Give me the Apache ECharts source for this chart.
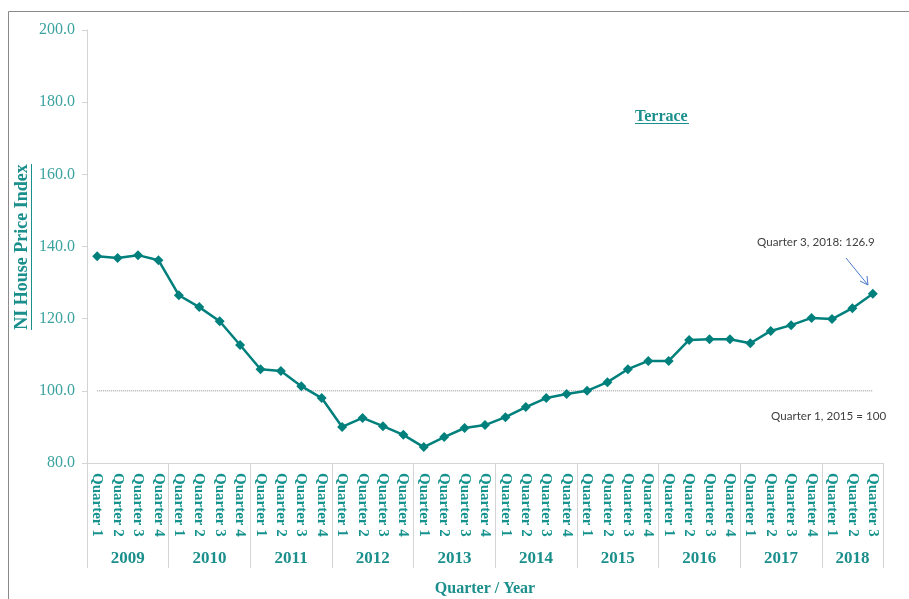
<!DOCTYPE html>
<html>
<head>
	<meta charset="utf-8">
	<title>NI House Price Index - Terrace</title>
	<style type="text/css">
		body { margin: 0; padding: 0; background-color: #fff; }
		#main { width: 909px; height: 599px; }
	</style>
	<script src="https://cdn.jsdelivr.net/npm/echarts@6/dist/echarts.min.js"></script>
</head>
<body>
	<div id="main"></div>
	<script type="text/javascript">

	// data
	var years = ['2009', '2010', '2011', '2012', '2013', '2014', '2015', '2016', '2017', '2018'];
	var quartersPerYear = [4, 4, 4, 4, 4, 4, 4, 4, 4, 3];
	var quarterNames = ['Quarter 1', 'Quarter 2', 'Quarter 3', 'Quarter 4'];
	var terrace = [
		137.3, 136.8, 137.6, 136.2,
		126.5, 123.2, 119.3, 112.7,
		106.0, 105.5, 101.3, 98.0,
		90.0, 92.5, 90.2, 87.8,
		84.4, 87.2, 89.7, 90.5,
		92.7, 95.5, 98.0, 99.1,
		100.0, 102.4, 106.0, 108.3,
		108.3, 114.1, 114.3, 114.3,
		113.2, 116.6, 118.2, 120.2,
		119.9, 122.9, 126.9
	];
	var baseValue = 100;
	var yTicks = [80, 100, 120, 140, 160, 180, 200];

	// quarter categories, and a half-step axis for the year group labels
	var quarterCats = [];
	var yearCats = [];
	var yearEdges = [0];
	years.forEach(function (y, i) {
		var n = quartersPerYear[i];
		for (var q = 0; q < n; q++) {
			quarterCats.push(quarterNames[q]);
		}
		for (var h = 0; h < n * 2; h++) {
			yearCats.push(h === n ? y : '');
		}
		yearEdges.push(yearEdges[yearEdges.length - 1] + n * 2);
	});
	yearCats.push('');
	var baseLine = terrace.map(function () { return baseValue; });

	var teal = '#00807c';
	var gridColor = '#d4d4d4';

	var chart = echarts.init(document.getElementById('main'));
	var option = {
		animation: false,
		grid: { left: 87, right: 26, top: 30, bottom: 136, outerBoundsMode: 'none', containLabel: false },
		xAxis: [
			{
				type: 'category',
				data: quarterCats,
				boundaryGap: true,
				position: 'bottom',
				name: 'Quarter / Year',
				nameLocation: 'middle',
				nameGap: 118,
				nameTextStyle: { color: '#1a8f8c', fontFamily: 'Liberation Serif', fontWeight: 'bold', fontSize: 16 },
				axisLine: { lineStyle: { color: gridColor, width: 1 } },
				axisTick: { interval: 0, length: 77, lineStyle: { color: gridColor } },
				axisLabel: {
					interval: 0, rotate: -90, margin: 10,
					color: '#15928e', fontFamily: 'Liberation Serif', fontWeight: 'bold', fontSize: 15
				},
				splitLine: { show: false }
			},
			{
				type: 'category',
				data: yearCats,
				boundaryGap: false,
				position: 'bottom',
				axisLine: { show: false },
				axisTick: {
					length: 105,
					lineStyle: { color: gridColor },
					interval: function (idx) { return yearEdges.indexOf(idx) >= 0; }
				},
				axisLabel: {
					margin: 87,
					color: '#1a8f8c', fontFamily: 'Liberation Serif', fontWeight: 'bold', fontSize: 17,
					interval: function (idx, val) { return val !== ''; }
				},
				splitLine: { show: false }
			}
		],
		yAxis: {
			type: 'value',
			min: yTicks[0],
			max: yTicks[yTicks.length - 1],
			interval: 20,
			axisLine: { show: true, lineStyle: { color: gridColor } },
			axisTick: { show: true, length: 5, lineStyle: { color: gridColor } },
			axisLabel: {
				margin: 12,
				color: '#3aa3a0', fontFamily: 'Liberation Serif', fontSize: 16,
				formatter: function (v) { return v.toFixed(1); }
			},
			splitLine: { show: false }
		},
		series: [
			{
				name: 'Base',
				type: 'line',
				data: baseLine,
				symbol: 'none',
				silent: true,
				lineStyle: { color: '#8c8c8c', width: 1, type: [1, 1] }
			},
			{
				name: 'Terrace',
				type: 'line',
				data: terrace,
				symbol: 'diamond',
				symbolSize: 10,
				itemStyle: { color: teal },
				lineStyle: { color: teal, width: 2.5 }
			}
		],
		graphic: [
			// outer frame
			{ type: 'rect', shape: { x: 8.5, y: 11.5, width: 940, height: 640 },
				style: { fill: null, stroke: '#8a8a8a', lineWidth: 1 }, silent: true },
			// chart title
			{ type: 'text', left: 635, top: 109,
				style: { text: 'Terrace', fill: '#1a8f8c', font: 'bold 16px "Liberation Serif"' } },
			{ type: 'line', shape: { x1: 635, y1: 123.5, x2: 689, y2: 123.5 },
				style: { stroke: '#1a8f8c', lineWidth: 1 } },
			// y-axis title, rotated, underlined
			{ type: 'text', x: 22, y: 247, rotation: Math.PI / 2,
				style: { text: 'NI House Price Index', fill: '#1a8f8c', font: 'bold 18px "Liberation Serif"',
					align: 'center', verticalAlign: 'middle' } },
			{ type: 'line', shape: { x1: 31.5, y1: 164, x2: 31.5, y2: 330 },
				style: { stroke: '#1a8f8c', lineWidth: 1 } },
			// annotations
			{ type: 'text', left: 757, top: 236,
				style: { text: 'Quarter 3, 2018: 126.9', fill: '#404040', font: '11.6px Lato' } },
			{ type: 'line', shape: { x1: 846, y1: 258, x2: 868, y2: 285 },
				style: { stroke: '#4a78c8', lineWidth: 1 } },
			{ type: 'polyline', shape: { points: [[860, 281], [868, 285], [867, 276]] },
				style: { stroke: '#4a78c8', lineWidth: 1, fill: null } },
			{ type: 'text', left: 771, top: 410,
				style: { text: 'Quarter 1, 2015 = 100', fill: '#404040', font: '11.6px Lato' } }
		]
	};
	chart.setOption(option);

	</script>
</body>
</html>
